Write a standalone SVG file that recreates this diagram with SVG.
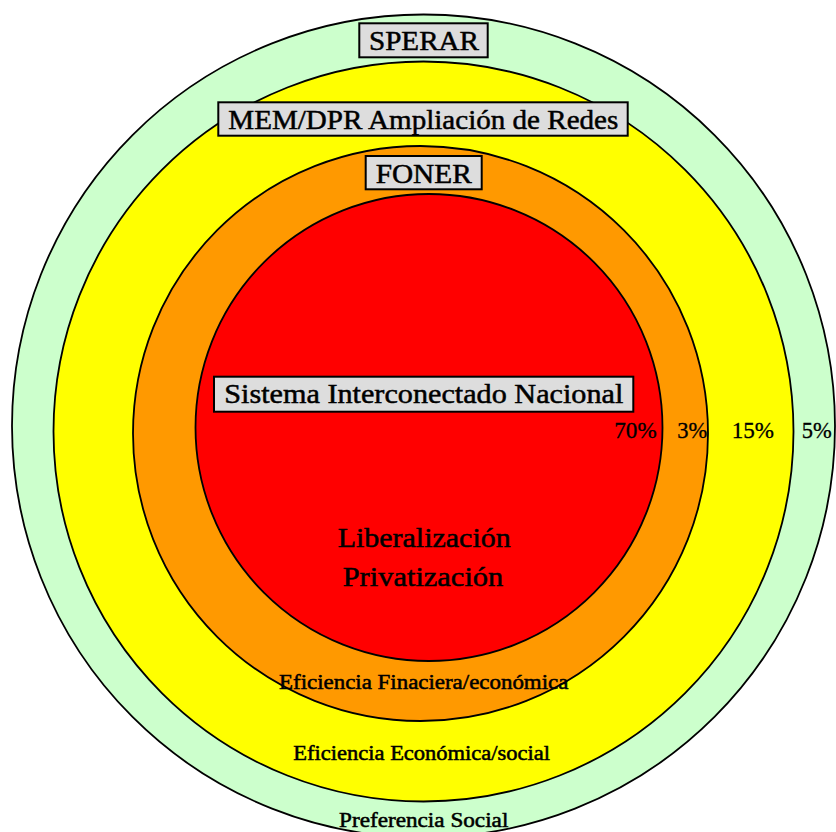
<svg xmlns="http://www.w3.org/2000/svg" width="836" height="832" viewBox="0 0 836 832">
  <style>
    .ring { stroke: #000; stroke-width: 1.8; }
    .box { fill: #dddddd; stroke: #000; stroke-width: 2; }
    text { font-family: "Liberation Serif", "DejaVu Serif", serif; fill: #000; stroke: #000; stroke-width: 0.5; }
    .lbl { font-size: 28px; text-anchor: middle; }
    .pct { font-size: 23px; stroke-width: 0.3; }
    .mid { font-size: 27px; text-anchor: middle; }
    .small { font-size: 20px; text-anchor: middle; stroke-width: 0.5; }
  </style>
  <rect width="836" height="832" fill="#ffffff"/>
  <g id="sperar">
    <circle class="ring" cx="423.5" cy="426" r="411.5" fill="#ccffcc"/>
    <rect class="box" x="359.3" y="23.3" width="128.4" height="34"/>
    <text class="lbl" x="424" y="50" textLength="110" lengthAdjust="spacingAndGlyphs">SPERAR</text>
    <text class="pct" x="801.7" y="438.3" textLength="30" lengthAdjust="spacingAndGlyphs">5%</text>
    <text class="small" x="423.7" y="826.7" textLength="169.3" lengthAdjust="spacingAndGlyphs">Preferencia Social</text>
  </g>
  <g id="mem-dpr">
    <circle class="ring" cx="423.5" cy="431.5" r="370" fill="#ffff00"/>
    <rect class="box" x="218.3" y="102.3" width="409.4" height="33.4"/>
    <text class="lbl" x="423.3" y="128.5" textLength="390" lengthAdjust="spacingAndGlyphs">MEM/DPR Ampliación de Redes</text>
    <text class="pct" x="731.7" y="438.3" textLength="42.3" lengthAdjust="spacingAndGlyphs">15%</text>
    <text class="small" x="421.7" y="760" textLength="256.7" lengthAdjust="spacingAndGlyphs">Eficiencia Económica/social</text>
  </g>
  <g id="foner">
    <circle class="ring" cx="420.5" cy="433.5" r="287.5" fill="#ff9900"/>
    <rect class="box" x="365.7" y="156" width="116" height="33.3"/>
    <text class="lbl" x="423.7" y="183.3" textLength="96" lengthAdjust="spacingAndGlyphs">FONER</text>
    <text class="pct" x="677.3" y="438.3" textLength="30" lengthAdjust="spacingAndGlyphs">3%</text>
    <text class="small" x="423.7" y="689.3" textLength="289.3" lengthAdjust="spacingAndGlyphs">Eficiencia Finaciera/económica</text>
  </g>
  <g id="sin">
    <circle class="ring" cx="429" cy="427.5" r="233.5" fill="#ff0000"/>
    <rect class="box" x="214" y="376.7" width="419.3" height="35"/>
    <text class="lbl" x="423.8" y="403.3" textLength="399" lengthAdjust="spacingAndGlyphs">Sistema Interconectado Nacional</text>
    <text class="pct" x="614.3" y="438.3" textLength="42.4" lengthAdjust="spacingAndGlyphs">70%</text>
    <text class="mid" x="424.2" y="546.7" textLength="173" lengthAdjust="spacingAndGlyphs">Liberalización</text>
    <text class="mid" x="423" y="586" textLength="160.6" lengthAdjust="spacingAndGlyphs">Privatización</text>
  </g>
</svg>
